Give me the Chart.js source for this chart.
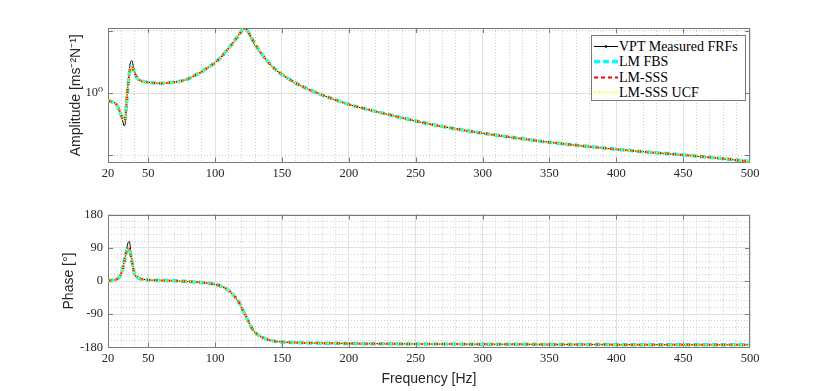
<!DOCTYPE html>
<html>
<head>
<meta charset="utf-8">
<script src="https://cdn.jsdelivr.net/npm/chart.js@4.4.0/dist/chart.umd.min.js"></script>
<style>
  body { margin: 0; background: #fff; }
  #wrap { position: relative; width: 830px; height: 391px; overflow: hidden; }
  #wrap canvas { position: absolute; left: 0; }
  #ampChart { top: 0; }
  #phaseChart { top: 195px; }
  #legend { position: absolute; left: 591px; top: 35px; width: 155px; height: 66px; box-sizing: border-box;
            background: #fff; border: 1px solid #7a7a7a; font: 14px "Liberation Serif", "DejaVu Serif", serif; color: #000; }
  #legend .item { position: absolute; left: 0; height: 15px; white-space: nowrap; }
  #legend svg { position: absolute; left: 1px; top: 0; }
  #legend span { position: absolute; left: 27px; top: 0; line-height: 15px; }
</style>
</head>
<body>
<div id="wrap">
  <canvas id="ampChart" width="830" height="195"></canvas>
  <canvas id="phaseChart" width="830" height="196"></canvas>
  <div id="legend"></div>
</div>
<script>
// frequency axis [Hz]
const freq = [20, 22, 24, 26, 28, 29, 30, 31, 32, 33, 34, 35, 36, 37, 38, 39, 40, 42, 44, 46,
  50, 55, 60, 65, 70, 75, 80, 85, 90, 95, 100, 104, 108, 112, 116, 119, 121, 122, 123, 124,
  126, 128, 131, 134, 138, 142, 146, 150, 155, 160, 170, 180, 190, 200, 220, 240, 260, 280,
  300, 325, 350, 375, 400, 425, 450, 475, 500];

const seriesNames = ['VPT Measured FRFs', 'LM FBS', 'LM-SSS', 'LM-SSS UCF'];

// amplitude [m s^-2 N^-1]
const ampMeasured = [0.918, 0.911, 0.904, 0.887, 0.839, 0.812, 0.776, 0.734, 0.694, 0.718, 0.928, 1.122, 1.312, 1.419, 1.435, 1.342, 1.269, 1.173, 1.154, 1.141,
  1.128, 1.120, 1.116, 1.122, 1.131, 1.147, 1.173, 1.220, 1.269, 1.335, 1.403, 1.484, 1.587, 1.706, 1.845, 1.970, 2.040, 2.068, 2.060, 2.000,
  1.900, 1.790, 1.660, 1.560, 1.450, 1.358, 1.285, 1.230, 1.170, 1.120, 1.041, 0.980, 0.927, 0.881, 0.815, 0.758, 0.709, 0.671,
  0.639, 0.606, 0.578, 0.554, 0.534, 0.517, 0.501, 0.485, 0.466];
const ampFbs = [0.918, 0.911, 0.904, 0.887, 0.839, 0.812, 0.776, 0.746, 0.741, 0.768, 0.918, 1.097, 1.255, 1.326, 1.338, 1.298, 1.248, 1.180, 1.154, 1.141,
  1.128, 1.120, 1.116, 1.122, 1.131, 1.147, 1.173, 1.220, 1.269, 1.335, 1.403, 1.484, 1.587, 1.706, 1.845, 1.963, 2.030, 2.036, 2.036, 2.007,
  1.919, 1.815, 1.687, 1.578, 1.459, 1.365, 1.290, 1.234, 1.173, 1.122, 1.043, 0.981, 0.928, 0.882, 0.816, 0.759, 0.710, 0.671,
  0.640, 0.607, 0.578, 0.555, 0.535, 0.517, 0.502, 0.485, 0.467];
const ampSss = [0.918, 0.911, 0.904, 0.887, 0.839, 0.812, 0.776, 0.746, 0.734, 0.759, 0.918, 1.097, 1.255, 1.335, 1.342, 1.298, 1.248, 1.180, 1.154, 1.141,
  1.128, 1.120, 1.116, 1.122, 1.131, 1.147, 1.173, 1.220, 1.269, 1.335, 1.403, 1.484, 1.587, 1.706, 1.845, 1.963, 2.030, 2.045, 2.041, 2.007,
  1.919, 1.815, 1.687, 1.578, 1.459, 1.365, 1.290, 1.234, 1.173, 1.122, 1.043, 0.981, 0.928, 0.882, 0.816, 0.759, 0.710, 0.671,
  0.640, 0.607, 0.578, 0.555, 0.535, 0.517, 0.502, 0.485, 0.467];
const ampUcf = [0.918, 0.911, 0.904, 0.887, 0.839, 0.812, 0.776, 0.746, 0.734, 0.762, 0.918, 1.097, 1.255, 1.335, 1.342, 1.298, 1.248, 1.180, 1.154, 1.141,
  1.128, 1.120, 1.116, 1.122, 1.131, 1.147, 1.173, 1.220, 1.269, 1.335, 1.403, 1.484, 1.587, 1.706, 1.845, 1.963, 2.030, 2.045, 2.041, 2.007,
  1.919, 1.815, 1.687, 1.578, 1.459, 1.365, 1.290, 1.234, 1.173, 1.122, 1.043, 0.981, 0.928, 0.882, 0.816, 0.759, 0.710, 0.671,
  0.640, 0.607, 0.578, 0.555, 0.535, 0.517, 0.502, 0.485, 0.467];

// phase [deg]
const phaseMeasured = [1, 1.5, 2.5, 4, 9, 14, 22, 33, 50, 68, 88, 104, 107, 82, 56, 32, 18, 10, 6, 4.5,
  3, 2, 1.5, 1, 0.5, -0.5, -1.5, -2.5, -4, -6, -9, -13, -20, -31, -48, -65, -81, -88, -95, -102,
  -118, -132, -143, -150, -157, -161, -164, -165.5, -166.5, -167, -168, -168.5, -169, -169.5, -170, -170.5, -171, -171,
  -171.5, -171.5, -172, -172, -172.5, -172.5, -173, -173, -173];
const phaseFbs = [1, 1.5, 2.5, 4, 9, 14, 22, 33, 50, 68, 82, 87, 85, 70, 50, 32, 18, 10, 6, 4.5,
  3, 2, 1.5, 1, 0.5, -0.5, -1.5, -2.5, -4, -6, -9, -13, -20, -31, -48, -65, -81, -88, -95, -102,
  -116, -130, -143, -150, -157, -161, -164, -165.5, -166.5, -167, -168, -168.5, -169, -169.5, -170, -170.5, -171, -171,
  -171.5, -171.5, -172, -172, -172.5, -172.5, -173, -173, -173];
const phaseSss = [1, 1.5, 2.5, 4, 9, 14, 22, 33, 50, 68, 82, 89, 86, 70, 50, 32, 18, 10, 6, 4.5,
  3, 2, 1.5, 1, 0.5, -0.5, -1.5, -2.5, -4, -6, -9, -13, -20, -31, -48, -65, -81, -88, -95, -102,
  -116, -130, -143, -150, -157, -161, -164, -165.5, -166.5, -167, -168, -168.5, -169, -169.5, -170, -170.5, -171, -171,
  -171.5, -171.5, -172, -172, -172.5, -172.5, -173, -173, -173];
const phaseUcf = [1, 1.5, 2.5, 4, 9, 14, 22, 33, 50, 68, 82, 89, 86, 70, 50, 32, 18, 10, 6, 4.5,
  3, 2, 1.5, 1, 0.5, -0.5, -1.5, -2.5, -4, -6, -9, -13, -20, -31, -48, -65, -81, -88, -95, -102,
  -116, -130, -143, -150, -157, -161, -164, -165.5, -166.5, -167, -168, -168.5, -169, -169.5, -170, -170.5, -171, -171,
  -171.5, -171.5, -172, -172, -172.5, -172.5, -173, -173, -173];

// ticks
const freqMajor = [20, 50, 100, 150, 200, 250, 300, 350, 400, 450, 500];
const ampTicks = [0.5, 1, 2];
const phaseMajor = [-180, -90, 0, 90, 180];

// looks
const lineStyles = [
  { color: '#000000', width: 1, dash: [], marker: true, order: 4 },
  { color: '#00ffff', width: 3.5, dash: [6, 3], order: 3 },
  { color: '#ff0000', width: 2, dash: [4, 3], order: 2 },
  { color: '#ffff00', width: 2, dash: [1, 1.5], order: 1 }
];
const serif = '"Liberation Serif", "DejaVu Serif", serif';
const sans = '"Liberation Sans", Arial, sans-serif';
const majorGrid = '#e1e1e1';
const minorGrid = '#cdcdcd';

Chart.defaults.animation = false;

function makeSets(arrays) {
  return arrays.map((arr, k) => ({
    label: seriesNames[k],
    data: freq.map((f, i) => ({ x: f, y: arr[i] })),
    borderColor: lineStyles[k].color,
    backgroundColor: lineStyles[k].color,
    borderWidth: lineStyles[k].width,
    borderDash: lineStyles[k].dash,
    pointRadius: 0,
    fill: false,
    cubicInterpolationMode: 'monotone',
    order: lineStyles[k].order
  }));
}

function isMajor(list, v) { return list.indexOf(v) >= 0; }

function xScale(withTitle, height) {
  return {
    type: 'linear', min: 20, max: 500,
    afterFit: s => { s.height = height; },
    ticks: {
      stepSize: 10, autoSkip: false, maxRotation: 0, padding: 4, color: '#262626',
      font: { family: serif, size: 12.5 },
      callback: v => isMajor(freqMajor, v) ? String(v) : ''
    },
    grid: {
      drawTicks: false, lineWidth: 1,
      color: c => (c.tick && isMajor(freqMajor, c.tick.value)) ? majorGrid : minorGrid
    },
    border: { display: false, dash: c => (c.tick && !isMajor(freqMajor, c.tick.value)) ? [1, 2] : [] },
    title: {
      display: withTitle, text: 'Frequency [Hz]', color: '#262626',
      font: { family: sans, size: 14 }, padding: { top: 0, bottom: 3.6 }
    }
  };
}

// axes box and inward tick marks
const boxPlugin = {
  id: 'box',
  beforeDatasetsDraw(chart, args, opts) {
    const { ctx, chartArea: a, scales } = chart;
    ctx.save();
    ctx.strokeStyle = '#7a7a7a';
    ctx.lineWidth = 1;
    ctx.strokeRect(Math.round(a.left) + 0.5, Math.round(a.top) + 0.5,
      Math.round(a.width) - 1, Math.round(a.height) - 1);
    ctx.beginPath();
    opts.xTicks.forEach(v => {
      const px = Math.round(scales.x.getPixelForValue(v)) + 0.5;
      ctx.moveTo(px, a.top); ctx.lineTo(px, a.top + 5);
      ctx.moveTo(px, a.bottom); ctx.lineTo(px, a.bottom - 5);
    });
    opts.yTicks.forEach(v => {
      const py = Math.round(scales.y.getPixelForValue(v)) + 0.5;
      ctx.moveTo(a.left, py); ctx.lineTo(a.left + 5, py);
      ctx.moveTo(a.right, py); ctx.lineTo(a.right - 5, py);
    });
    ctx.stroke();
    ctx.restore();
  }
};

new Chart(document.getElementById('ampChart'), {
  type: 'line',
  data: { datasets: makeSets([ampMeasured, ampFbs, ampSss, ampUcf]) },
  plugins: [boxPlugin],
  options: {
    responsive: false,
    devicePixelRatio: 1,
    layout: { padding: { top: 28, right: 80, left: 0, bottom: 0 } },
    plugins: {
      legend: { display: false }, tooltip: { enabled: false },
      box: { xTicks: freqMajor.slice(1, -1), yTicks: ampTicks }
    },
    scales: {
      x: xScale(false, 32.5),
      y: {
        type: 'logarithmic', min: 0.4614, max: 2.068,
        afterFit: s => { s.width = 108; },
        afterBuildTicks: s => { s.ticks = ampTicks.map(v => ({ value: v })); },
        ticks: {
          padding: 5, color: '#262626', font: { family: serif, size: 12.5 },
          callback: v => v === 1 ? '10\u2070' : ''
        },
        grid: {
          drawTicks: false, lineWidth: 1,
          color: c => (c.tick && c.tick.value === 1) ? majorGrid : minorGrid
        },
        border: { display: false, dash: c => (c.tick && c.tick.value !== 1) ? [1, 2] : [] },
        title: {
          display: true, text: 'Amplitude [ms\u207B\u00B2N\u207B\u00B9]', color: '#262626',
          font: { family: sans, size: 14 }, padding: { top: 67.6, bottom: 0 }
        }
      }
    }
  }
});

new Chart(document.getElementById('phaseChart'), {
  type: 'line',
  data: { datasets: makeSets([phaseMeasured, phaseFbs, phaseSss, phaseUcf]) },
  plugins: [boxPlugin],
  options: {
    responsive: false,
    devicePixelRatio: 1,
    layout: { padding: { top: 19.6, right: 80, left: 0, bottom: 0 } },
    plugins: {
      legend: { display: false }, tooltip: { enabled: false },
      box: { xTicks: freqMajor.slice(1, -1), yTicks: [-90, 0, 90] }
    },
    scales: {
      x: xScale(true, 43.6),
      y: {
        type: 'linear', min: -180, max: 180,
        afterFit: s => { s.width = 108; },
        ticks: {
          stepSize: 18, autoSkip: false, padding: 5, color: '#262626',
          font: { family: serif, size: 12.5 },
          callback: v => isMajor(phaseMajor, v) ? String(v) : ''
        },
        grid: {
          drawTicks: false, lineWidth: 1,
          color: c => (c.tick && isMajor(phaseMajor, c.tick.value)) ? majorGrid : minorGrid
        },
        border: { display: false, dash: c => (c.tick && !isMajor(phaseMajor, c.tick.value)) ? [1, 2] : [] },
        title: {
          display: true, text: 'Phase [\u00B0]', color: '#262626',
          font: { family: sans, size: 14 }, padding: { top: 60.6, bottom: 0 }
        }
      }
    }
  }
});

// legend box, built from the series names and line looks
const legend = document.getElementById('legend');
seriesNames.forEach((name, k) => {
  const st = lineStyles[k];
  const item = document.createElement('div');
  item.className = 'item';
  item.style.top = (3 + k * 15.4) + 'px';
  item.style.width = '150px';
  let svg = '<svg width="26" height="15"><line x1="1" y1="7.5" x2="25" y2="7.5" stroke="' + st.color +
    '" stroke-width="' + st.width + '" stroke-dasharray="' + (st.dash.length ? st.dash.join(' ') : 'none') + '"/>';
  if (st.marker) svg += '<circle cx="13" cy="7.5" r="1.3" fill="' + st.color + '"/>';
  svg += '</svg>';
  item.innerHTML = svg + '<span>' + name + '</span>';
  legend.appendChild(item);
});
</script>
</body>
</html>
